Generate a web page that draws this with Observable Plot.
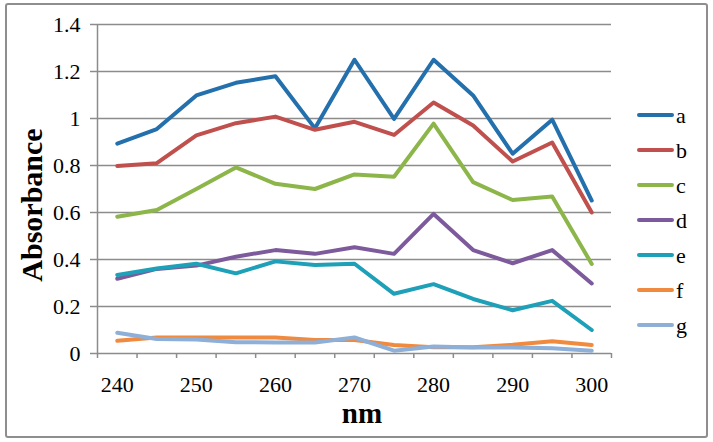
<!DOCTYPE html>
<html>
<head>
<meta charset="utf-8">
<script src="https://cdn.jsdelivr.net/npm/d3@7"></script>
<script src="https://cdn.jsdelivr.net/npm/@observablehq/plot@0.6"></script>
<style>
  body { margin: 0; background: #fff; }
  #wrap { position: relative; width: 713px; height: 442px; font-family: "Liberation Serif", "Times New Roman", serif; color: #000; overflow: hidden; }
  #frame { position: absolute; left: 5px; top: 3px; width: 703px; height: 435px; box-sizing: border-box; border: 2px solid #8e8e8e; border-radius: 3px; pointer-events: none; }
  #chart { position: absolute; left: 0; top: 0; }
  #chart svg text { font-family: "Liberation Serif", "Times New Roman", serif !important; }
  .ttl { position: absolute; font-weight: bold; font-size: 30px; white-space: nowrap; line-height: 1; }
  #ytitle { left: 32px; top: 205px; transform: translate(-50%, -50%) rotate(-90deg); }
  #xtitle { left: 362px; top: 404.5px; font-size: 29px; line-height: 0.6; transform: translateX(-50%); }
  .leg { position: absolute; left: 637px; height: 0; }
  .leg .sw { position: absolute; left: 0; top: -2px; width: 37px; height: 4px; border-radius: 2px; }
  .leg .lb { position: absolute; left: 39px; top: -10px; font-size: 22px; line-height: 1; }
</style>
</head>
<body>
<div id="wrap">
  <div id="chart"></div>
  <div id="frame"></div>
  <div class="ttl" id="ytitle">Absorbance</div>
  <div class="ttl" id="xtitle">nm</div>
  <div id="legend"></div>
</div>
<script>
// ---- data ----
const wavelengths = [240, 245, 250, 255, 260, 265, 270, 275, 280, 285, 290, 295, 300];
const seriesNames = ["a", "b", "c", "d", "e", "f", "g"];
const a = [0.893, 0.955, 1.098, 1.152, 1.180, 0.958, 1.250, 0.998, 1.250, 1.098, 0.850, 0.995, 0.651];
const b = [0.798, 0.810, 0.928, 0.980, 1.008, 0.952, 0.986, 0.930, 1.068, 0.970, 0.817, 0.898, 0.600];
const c = [0.582, 0.611, 0.700, 0.792, 0.722, 0.700, 0.762, 0.752, 0.978, 0.729, 0.653, 0.668, 0.381];
const d = [0.318, 0.360, 0.374, 0.412, 0.440, 0.424, 0.452, 0.424, 0.594, 0.440, 0.384, 0.440, 0.298];
const e = [0.334, 0.362, 0.382, 0.341, 0.392, 0.377, 0.382, 0.254, 0.295, 0.232, 0.184, 0.224, 0.100];
const f = [0.054, 0.068, 0.068, 0.068, 0.068, 0.057, 0.057, 0.036, 0.027, 0.027, 0.037, 0.052, 0.036];
const g = [0.088, 0.062, 0.060, 0.048, 0.047, 0.047, 0.068, 0.012, 0.030, 0.026, 0.026, 0.022, 0.012];
const colors = ["#2370AD", "#C0504D", "#8DB64A", "#7D5A9C", "#1EA0B8", "#F08A3E", "#8DAFD8"];
const xTickLabels = [240, 250, 260, 270, 280, 290, 300];
const yTicks = [0, 0.2, 0.4, 0.6, 0.8, 1, 1.2, 1.4];

// ---- build ----
const seriesValues = [a, b, c, d, e, f, g];
const table = [];
seriesNames.forEach((s, i) => wavelengths.forEach((w, j) => table.push({ series: s, nm: w, value: seriesValues[i][j] })));

const step = wavelengths[1] - wavelengths[0];
const x0 = wavelengths[0] - step / 2;
const x1 = wavelengths[wavelengths.length - 1] + step / 2;
const boundaries = wavelengths.map(w => w - step / 2).concat([x1]);
const gridColor = "#8c8c8c";
const serif = "Liberation Serif";

const chart = Plot.plot({
  width: 713,
  height: 442,
  marginLeft: 97,
  marginRight: 102,
  marginTop: 24,
  marginBottom: 89,
  style: { fontFamily: serif, fontSize: "22px", color: "#000", background: "transparent", overflow: "visible" },
  x: { type: "linear", domain: [x0, x1] },
  y: { domain: [0, 1.4] },
  color: { domain: seriesNames, range: colors },
  marks: [
    Plot.gridY(yTicks, { stroke: gridColor, strokeOpacity: 1, strokeWidth: 1.5 }),
    Plot.ruleX([x0], { stroke: gridColor, strokeWidth: 1.5 }),
    Plot.axisY(yTicks, { tickSize: 7, tickPadding: 10, fontSize: 22, fontFamily: serif, stroke: gridColor, strokeWidth: 1.5, tickFormat: v => String(v), label: null }),
    Plot.axisX(boundaries, { tickSize: 5, stroke: gridColor, strokeWidth: 1.5, tickFormat: () => "", label: null }),
    Plot.axisX(xTickLabels, { tickSize: 0, tickPadding: 23, fontSize: 22, fontFamily: serif, tickFormat: v => String(v), label: null }),
    Plot.line(table, { x: "nm", y: "value", z: "series", stroke: "series", strokeWidth: 4, strokeLinejoin: "round", strokeLinecap: "round" })
  ]
});
document.getElementById("chart").appendChild(chart);

// legend
const legend = document.getElementById("legend");
seriesNames.forEach((s, i) => {
  const row = document.createElement("div");
  row.className = "leg";
  row.style.top = (115 + 35 * i) + "px";
  row.innerHTML = `<div class="sw" style="background:${colors[i]}"></div><div class="lb">${s}</div>`;
  legend.appendChild(row);
});
</script>
</body>
</html>
